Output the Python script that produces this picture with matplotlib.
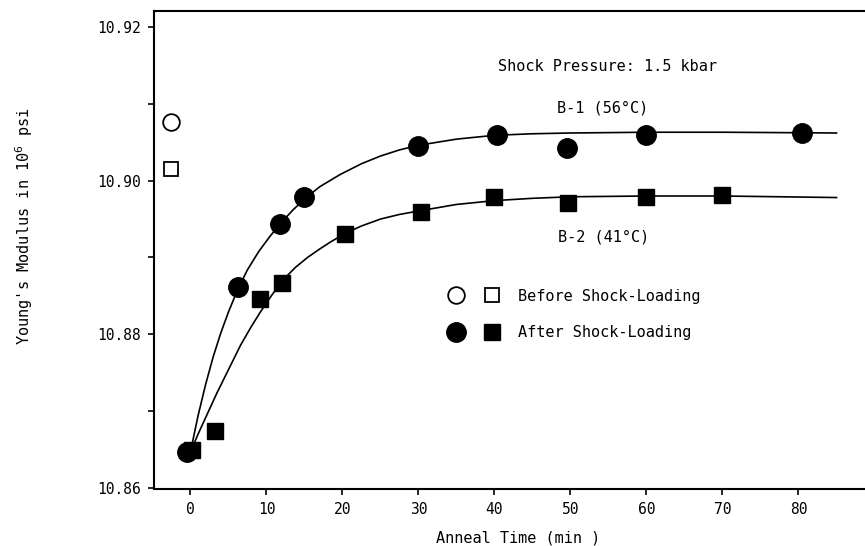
import matplotlib
matplotlib.use("Agg")
import matplotlib.pyplot as plt
from matplotlib.legend_handler import HandlerTuple

# Data
# Before shock-loading (open markers)
before_b1_t = [-2.6]
before_b1_E = [10.9076]
before_b2_t = [-2.5]
before_b2_E = [10.9015]

# After shock-loading, B-1 (56 C) circles
b1_t = [-0.4, 6.2, 11.8, 14.9, 30.0, 40.3, 49.6, 60.0, 80.5]
b1_E = [10.8647, 10.8862, 10.8944, 10.8979, 10.9045, 10.9059, 10.9043, 10.9059, 10.9062]

# After shock-loading, B-2 (41 C) squares
b2_t = [0.2, 3.2, 9.2, 12.1, 20.3, 30.3, 40.0, 49.7, 59.9, 69.9]
b2_E = [10.8649, 10.8674, 10.8846, 10.8867, 10.8931, 10.8959, 10.8979, 10.8971, 10.8979, 10.8981]

# Hand-drawn guide curves
b1_curve_t = [0, 1, 2, 3, 4, 5, 6.2, 7.5, 9, 10.5, 12, 13.5, 15, 17, 19.7, 22.5, 25, 27.5,
              30, 35, 40, 45, 50, 60, 70, 85]
b1_curve_E = [10.8647, 10.8694, 10.8735, 10.8771, 10.8802, 10.8829, 10.8858, 10.8884, 10.8908,
              10.8928, 10.8946, 10.8962, 10.8976, 10.8992, 10.9008, 10.9022, 10.9032, 10.9040,
              10.9046, 10.9054, 10.9059, 10.9061, 10.9062, 10.9063, 10.9063, 10.9062]
b2_curve_t = [0, 1, 2.2, 3.5, 4.9, 6.6, 8, 9.2, 10.7, 12.2, 13.8, 15.4, 17, 18.4, 20.3, 22.5,
              25, 27.5, 30.3, 35, 40, 45, 50, 60, 70, 85]
b2_curve_E = [10.8647, 10.8670, 10.8696, 10.8724, 10.8752, 10.8786, 10.8810, 10.8829, 10.8851,
              10.8871, 10.8887, 10.8900, 10.8911, 10.8920, 10.8931, 10.8941, 10.8950, 10.8956,
              10.8961, 10.8969, 10.8974, 10.8977, 10.8979, 10.8980, 10.8980, 10.8978]

x_ticks = [0, 10, 20, 30, 40, 50, 60, 70, 80]
y_ticks = [10.86, 10.87, 10.88, 10.89, 10.90, 10.91, 10.92]

plt.rcParams['font.family'] = ['DejaVu Sans Mono', 'DejaVu Sans']
fs = 11

fig = plt.figure(figsize=(8.65, 5.46), dpi=100)
ax = fig.add_axes([0.178, 0.1044, 0.822, 0.8755])

ax.plot(b1_curve_t, b1_curve_E, color='black', lw=1.2)
ax.plot(b2_curve_t, b2_curve_E, color='black', lw=1.2)

h_bc, = ax.plot(before_b1_t, before_b1_E, 'o', ms=12, mfc='white', mec='black', mew=1.3, ls='none')
h_bs, = ax.plot(before_b2_t, before_b2_E, 's', ms=10.5, mfc='white', mec='black', mew=1.3, ls='none')
h_ac, = ax.plot(b1_t, b1_E, 'o', ms=14, color='black', ls='none')
h_as, = ax.plot(b2_t, b2_E, 's', ms=11.5, color='black', ls='none')

ax.set_xlim(-4.8, 88.75)
ax.set_ylim(10.85987, 10.92208)
ax.set_xticks(x_ticks)
ax.set_yticks(y_ticks)
ax.set_yticklabels([f"{v:.2f}" if i % 2 == 0 else "" for i, v in enumerate(y_ticks)])
ax.tick_params(direction='out', length=4.5, width=1.2, labelsize=10.5, pad=5)

for side in ['left', 'bottom', 'top']:
    ax.spines[side].set_linewidth(1.5)
ax.spines['right'].set_visible(False)

ax.set_xlabel("Anneal Time (min )", fontsize=fs)
ax.xaxis.set_label_coords(0.512, -0.087)
ax.set_ylabel("Young's Modulus in 10$^6$ psi", fontsize=fs)
ax.yaxis.set_label_coords(-0.168, 0.55)

ax.text(40.5, 10.9148, "Shock Pressure: 1.5 kbar", fontsize=fs, va='center')
ax.text(48.2, 10.9095, "B-1 (56°C)", fontsize=fs, va='center')
ax.text(48.4, 10.8927, "B-2 (41°C)", fontsize=fs, va='center')

leg = ax.legend([(h_bc, h_bs), (h_ac, h_as)],
                ["Before Shock-Loading", "After Shock-Loading"],
                handler_map={tuple: HandlerTuple(ndivide=None, pad=1.0)},
                frameon=False, loc='upper left', bbox_to_anchor=(0.392, 0.448),
                fontsize=fs, handlelength=3.6, handletextpad=1.1,
                labelspacing=1.4, numpoints=1)

plt.savefig("out.png", dpi=100)
